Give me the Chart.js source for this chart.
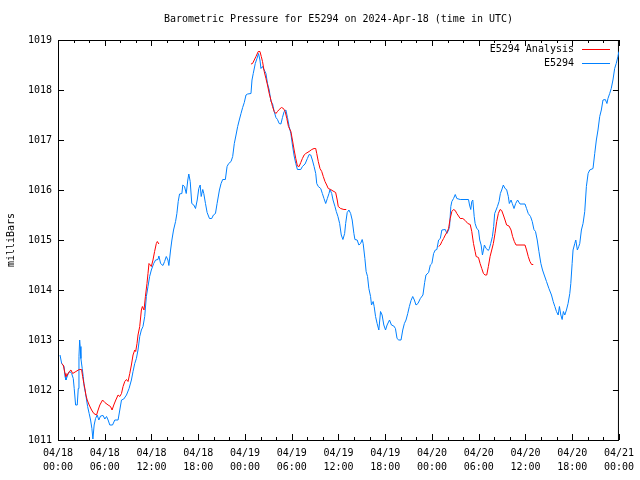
<!DOCTYPE html>
<html><head><meta charset="utf-8">
<script src="https://cdn.jsdelivr.net/npm/chart.js@4"></script>
<style>html,body{margin:0;padding:0;background:#fff}canvas{display:block}</style>
</head><body>
<canvas id="c" width="640" height="480"></canvas>
<script>
const TITLE = "Barometric Pressure for E5294 on 2024-Apr-18 (time in UTC)";
const Y_TITLE = "milliBars";
const SERIES_NAMES = ["E5294 Analysis", "E5294"];
const Y_TICKS = [1011, 1012, 1013, 1014, 1015, 1016, 1017, 1018, 1019];
const X_TICK_HOURS = [0, 6, 12, 18, 24, 30, 36, 42, 48, 54, 60, 66, 72];
const X_TICK_LABELS = [
  ["04/18","00:00"],["04/18","06:00"],["04/18","12:00"],["04/18","18:00"],
  ["04/19","00:00"],["04/19","06:00"],["04/19","12:00"],["04/19","18:00"],
  ["04/20","00:00"],["04/20","06:00"],["04/20","12:00"],["04/20","18:00"],
  ["04/21","00:00"]
];
const X_MINOR_STEP_HOURS = 2;

// E5294 observations: hours since 04/18 00:00 UTC, pressure in mb
const blueHours = [0.26,0.47,0.77,0.90,1.02,1.32,1.53,1.75,1.96,2.08,2.26,2.47,2.60,2.69,2.78,2.85,2.94,3.11,3.24,3.36,3.54,3.67,3.80,4.00,4.18,4.35,4.48,4.64,4.82,5.03,5.24,5.46,5.79,6.01,6.23,6.43,6.65,7.00,7.29,7.71,7.93,8.15,8.44,8.79,9.12,9.42,9.63,9.85,10.06,10.27,10.49,10.70,10.91,11.13,11.34,11.55,11.76,11.98,12.28,12.53,12.83,12.95,13.17,13.47,13.68,13.90,14.11,14.23,14.45,14.62,14.83,15.09,15.26,15.43,15.60,15.90,16.02,16.24,16.46,16.66,16.79,16.97,17.17,17.43,17.65,17.87,18.07,18.25,18.38,18.58,18.71,18.93,19.14,19.44,19.73,19.95,20.21,20.42,20.72,20.93,21.14,21.48,21.70,21.91,22.21,22.42,22.63,22.85,23.06,23.27,23.49,23.70,23.91,24.13,24.34,24.77,24.90,25.06,25.32,25.54,25.74,25.92,26.05,26.25,26.47,26.69,26.89,27.11,27.33,27.53,27.75,27.97,28.17,28.39,28.61,28.81,29.03,29.25,29.45,29.67,29.89,30.09,30.31,30.52,30.73,31.16,31.37,31.71,32.01,32.23,32.44,32.65,32.87,33.08,33.21,33.41,33.72,33.93,34.14,34.36,34.57,34.78,34.91,35.13,35.30,35.55,35.72,35.93,36.15,36.36,36.57,36.79,36.92,37.12,37.34,37.56,37.76,37.98,38.11,38.40,38.62,38.84,39.04,39.17,39.39,39.55,39.73,39.90,40.12,40.24,40.45,40.58,40.76,40.96,41.18,41.40,41.60,41.82,42.04,42.24,42.55,42.80,43.10,43.31,43.52,43.74,44.03,44.25,44.46,44.67,44.89,45.10,45.31,45.53,45.74,45.95,46.20,46.51,46.84,47.06,47.23,47.57,47.79,47.99,48.21,48.43,48.63,48.85,49.07,49.27,49.71,49.91,50.13,50.26,50.42,50.55,50.77,50.99,51.19,51.63,52.69,52.82,52.98,53.11,53.24,53.42,53.54,53.75,53.97,54.13,54.31,54.48,54.61,54.73,54.95,55.24,55.37,55.54,55.76,55.92,56.05,56.23,56.40,56.61,56.78,56.95,57.16,57.38,57.58,57.80,57.93,58.15,58.31,58.53,58.74,58.99,59.30,59.94,60.14,60.36,60.65,60.87,61.09,61.29,61.51,61.73,61.98,62.19,62.41,62.70,63.01,63.34,63.56,63.77,63.98,64.20,64.36,64.54,64.71,64.87,65.05,65.26,65.47,65.69,65.82,65.99,66.11,66.33,66.46,66.66,66.84,66.97,67.18,67.39,67.61,67.82,68.04,68.25,68.67,68.89,69.10,69.31,69.53,69.74,69.95,70.25,70.46,70.59,70.81,71.01,71.23,71.45,71.65,71.87,72.00];
const bluePressure = [1012.70,1012.53,1012.47,1012.27,1012.20,1012.33,1012.37,1012.33,1012.23,1012.03,1011.70,1011.70,1012.03,1012.67,1013.00,1012.87,1012.63,1012.43,1012.27,1012.07,1011.93,1011.80,1011.67,1011.53,1011.40,1011.23,1011.02,1011.30,1011.43,1011.50,1011.40,1011.48,1011.49,1011.42,1011.47,1011.40,1011.30,1011.30,1011.40,1011.40,1011.60,1011.80,1011.82,1011.90,1012.03,1012.20,1012.37,1012.53,1012.63,1012.80,1013.07,1013.20,1013.27,1013.47,1013.87,1014.07,1014.27,1014.40,1014.53,1014.60,1014.61,1014.68,1014.53,1014.49,1014.57,1014.67,1014.60,1014.49,1014.80,1015.00,1015.20,1015.37,1015.53,1015.77,1015.92,1015.93,1016.10,1016.07,1015.93,1016.20,1016.32,1016.17,1015.73,1015.70,1015.63,1015.80,1016.03,1016.10,1015.87,1016.01,1015.93,1015.73,1015.55,1015.43,1015.43,1015.50,1015.53,1015.73,1016.00,1016.13,1016.21,1016.21,1016.47,1016.53,1016.57,1016.67,1016.93,1017.10,1017.27,1017.40,1017.53,1017.65,1017.75,1017.90,1017.92,1017.93,1018.20,1018.33,1018.53,1018.63,1018.73,1018.60,1018.43,1018.47,1018.40,1018.33,1018.13,1018.00,1017.77,1017.73,1017.57,1017.45,1017.41,1017.33,1017.32,1017.45,1017.57,1017.60,1017.45,1017.27,1017.13,1016.90,1016.68,1016.53,1016.41,1016.41,1016.47,1016.52,1016.63,1016.71,1016.70,1016.60,1016.47,1016.33,1016.13,1016.07,1016.03,1015.93,1015.83,1015.73,1015.83,1015.93,1016.01,1015.93,1015.80,1015.67,1015.57,1015.47,1015.33,1015.10,1015.01,1015.13,1015.33,1015.55,1015.60,1015.53,1015.40,1015.13,1015.01,1015.00,1014.90,1014.93,1015.01,1014.93,1014.63,1014.37,1014.27,1014.03,1013.87,1013.70,1013.77,1013.67,1013.47,1013.33,1013.20,1013.57,1013.50,1013.30,1013.20,1013.30,1013.40,1013.30,1013.28,1013.23,1013.03,1013.00,1013.00,1013.20,1013.33,1013.40,1013.53,1013.67,1013.79,1013.87,1013.80,1013.70,1013.73,1013.83,1013.90,1014.15,1014.30,1014.35,1014.50,1014.53,1014.73,1014.80,1014.81,1015.00,1015.03,1015.20,1015.21,1015.13,1015.20,1015.27,1015.67,1015.77,1015.83,1015.91,1015.83,1015.81,1015.81,1015.70,1015.61,1015.77,1015.80,1015.47,1015.33,1015.23,1015.20,1015.00,1014.90,1014.70,1014.80,1014.90,1014.83,1014.79,1014.83,1014.93,1015.07,1015.27,1015.53,1015.60,1015.67,1015.77,1015.93,1016.00,1016.10,1016.03,1016.01,1015.87,1015.73,1015.80,1015.73,1015.63,1015.73,1015.80,1015.72,1015.72,1015.63,1015.53,1015.47,1015.37,1015.21,1015.17,1015.00,1014.77,1014.53,1014.40,1014.30,1014.17,1014.03,1013.90,1013.77,1013.67,1013.57,1013.50,1013.67,1013.50,1013.41,1013.57,1013.50,1013.60,1013.73,1013.93,1014.13,1014.53,1014.80,1014.93,1015.00,1014.80,1014.87,1014.93,1015.20,1015.33,1015.57,1016.07,1016.33,1016.40,1016.43,1016.73,1017.00,1017.20,1017.47,1017.60,1017.80,1017.81,1017.73,1017.83,1017.93,1018.03,1018.20,1018.43,1018.53,1018.67,1018.77];

// E5294 Analysis: three runs separated by gaps (null)
const redHours = [0.47,0.68,0.90,1.02,1.19,1.45,1.66,1.88,2.30,2.72,3.03,3.16,3.32,3.45,3.58,3.75,4.00,4.31,4.60,4.95,5.15,5.37,5.72,6.01,6.43,6.74,6.94,7.16,7.42,7.71,7.93,8.15,8.35,8.57,8.79,8.99,9.21,9.42,9.63,9.85,9.97,10.14,10.27,10.49,10.70,10.83,11.04,11.22,11.42,11.55,11.68,11.85,11.98,12.19,12.40,12.62,12.75,12.95,
  18.0,
  24.77,24.97,25.19,25.41,25.70,25.92,26.09,26.25,26.47,26.69,26.89,27.11,27.33,27.53,27.75,27.97,28.17,28.39,28.68,28.94,29.16,29.37,29.58,29.89,30.09,30.31,30.52,30.73,30.95,31.16,31.37,31.59,31.80,32.23,32.57,32.87,33.08,33.21,33.41,33.63,33.85,34.05,34.27,34.49,34.69,35.00,35.30,35.64,35.84,35.97,36.28,36.70,37.00,
  42.0,
  48.85,49.07,49.27,49.49,49.71,49.91,50.13,50.34,50.55,50.77,50.99,51.19,51.41,51.63,51.96,52.27,52.60,52.91,53.11,53.33,53.54,53.67,53.97,54.18,54.39,54.61,54.82,55.03,55.24,55.46,55.67,55.88,56.09,56.31,56.52,56.74,56.95,57.16,57.38,57.58,57.89,58.15,58.35,58.57,58.79,59.30,59.94,60.14,60.36,60.57,60.79,61.00];
const redPressure = [1012.53,1012.50,1012.33,1012.27,1012.30,1012.37,1012.40,1012.33,1012.37,1012.41,1012.41,1012.27,1012.13,1012.03,1011.90,1011.80,1011.70,1011.60,1011.53,1011.50,1011.60,1011.70,1011.80,1011.75,1011.70,1011.67,1011.60,1011.70,1011.80,1011.90,1011.87,1011.93,1012.07,1012.17,1012.21,1012.17,1012.33,1012.50,1012.70,1012.80,1012.77,1012.93,1013.10,1013.27,1013.60,1013.67,1013.60,1013.87,1014.13,1014.33,1014.53,1014.50,1014.47,1014.60,1014.77,1014.93,1014.97,1014.92,
  null,
  1018.52,1018.53,1018.60,1018.67,1018.77,1018.77,1018.67,1018.57,1018.37,1018.23,1018.10,1017.93,1017.80,1017.67,1017.57,1017.53,1017.57,1017.61,1017.65,1017.63,1017.57,1017.43,1017.27,1017.17,1017.00,1016.80,1016.63,1016.48,1016.47,1016.55,1016.63,1016.70,1016.73,1016.77,1016.81,1016.83,1016.83,1016.73,1016.57,1016.43,1016.37,1016.27,1016.17,1016.10,1016.03,1016.01,1015.98,1015.95,1015.80,1015.67,1015.63,1015.61,1015.61,
  null,
  1014.87,1014.90,1014.97,1015.03,1015.10,1015.15,1015.23,1015.43,1015.57,1015.61,1015.59,1015.53,1015.48,1015.43,1015.43,1015.39,1015.33,1015.31,1015.17,1014.93,1014.77,1014.67,1014.65,1014.53,1014.43,1014.33,1014.30,1014.30,1014.47,1014.67,1014.80,1014.93,1015.13,1015.37,1015.53,1015.61,1015.59,1015.50,1015.40,1015.30,1015.28,1015.20,1015.07,1014.97,1014.90,1014.90,1014.90,1014.80,1014.67,1014.57,1014.51,1014.51];

const FONT = "'DejaVu Sans Mono', 'Liberation Mono', monospace";
const RED = "#ff0000";
const BLUE = "#0080ff";

const toPoints = (xs, ys) => xs.map((x, i) => ({ x: x, y: ys[i] }));

const decorPlugin = {
  id: "decor",
  beforeDatasetsDraw(chart) {
    const ctx = chart.ctx, a = chart.chartArea;
    const xs = chart.scales.x, ys = chart.scales.y;
    ctx.save();
    ctx.strokeStyle = "#000";
    ctx.lineWidth = 1;
    ctx.beginPath();
    // y ticks (inward, both sides)
    Y_TICKS.forEach(v => {
      const py = Math.round(ys.getPixelForValue(v)) + 0.5;
      ctx.moveTo(a.left, py); ctx.lineTo(a.left + 6, py);
      ctx.moveTo(a.right, py); ctx.lineTo(a.right - 6, py);
    });
    // x ticks (major + minor, inward, bottom and top)
    for (let h = xs.min; h <= xs.max + 1e-9; h += X_MINOR_STEP_HOURS) {
      const major = X_TICK_HOURS.includes(h);
      const len = major ? 6 : 3;
      const px = Math.round(xs.getPixelForValue(h)) + 0.5;
      ctx.moveTo(px, a.bottom); ctx.lineTo(px, a.bottom - len);
      ctx.moveTo(px, a.top); ctx.lineTo(px, a.top + len);
    }
    ctx.stroke();
    ctx.strokeRect(a.left + 0.5, a.top + 0.5, a.right - a.left - 1, a.bottom - a.top);
    ctx.restore();
  },
  afterDraw(chart) {
    const ctx = chart.ctx, a = chart.chartArea;
    ctx.save();
    ctx.fillStyle = "#000";
    ctx.font = "10px " + FONT;
    ctx.textBaseline = "middle";
    // title
    ctx.textAlign = "center";
    ctx.fillText(TITLE, (a.left + a.right) / 2, 19);
    // y axis title
    ctx.save();
    ctx.translate(11, (a.top + a.bottom) / 2);
    ctx.rotate(-Math.PI / 2);
    ctx.fillText(Y_TITLE, 0, 0);
    ctx.restore();
    // legend
    const colors = [RED, BLUE];
    SERIES_NAMES.forEach((name, i) => {
      const y = 49 + i * 14;
      ctx.textAlign = "right";
      ctx.fillStyle = "#000";
      ctx.fillText(name, 574, y);
      ctx.strokeStyle = colors[i];
      ctx.lineWidth = 1;
      ctx.beginPath();
      ctx.moveTo(582, Math.round(y) + 0.5);
      ctx.lineTo(610, Math.round(y) + 0.5);
      ctx.stroke();
    });
    ctx.restore();
  }
};

new Chart(document.getElementById("c"), {
  type: "line",
  data: {
    datasets: [
      { label: SERIES_NAMES[0], data: toPoints(redHours, redPressure), borderColor: RED, borderWidth: 1, pointRadius: 0, spanGaps: false, tension: 0, fill: false },
      { label: SERIES_NAMES[1], data: toPoints(blueHours, bluePressure), borderColor: BLUE, borderWidth: 1, pointRadius: 0, tension: 0, fill: false }
    ]
  },
  options: {
    responsive: false,
    animation: false,
    devicePixelRatio: 1,
    layout: { padding: { top: 40, right: 19, left: 0, bottom: 0 } },
    plugins: { legend: { display: false }, title: { display: false }, tooltip: { enabled: false } },
    scales: {
      x: {
        type: "linear", min: 0, max: 72,
        afterFit: s => { s.height = 40; },
        afterBuildTicks: s => { s.ticks = X_TICK_HOURS.map(v => ({ value: v })); },
        grid: { display: false, drawTicks: false },
        border: { display: false },
        ticks: {
          autoSkip: false, maxRotation: 0, minRotation: 0, padding: 6, color: "#000",
          font: { family: FONT, size: 10, lineHeight: 1.4 },
          callback: v => { const i = X_TICK_HOURS.indexOf(v); return i >= 0 ? X_TICK_LABELS[i] : ""; }
        }
      },
      y: {
        type: "linear", min: 1011, max: 1019,
        afterFit: s => { s.width = 58; },
        afterBuildTicks: s => { s.ticks = Y_TICKS.map(v => ({ value: v })); },
        grid: { display: false, drawTicks: false },
        border: { display: false },
        ticks: { padding: 6, color: "#000", font: { family: FONT, size: 10 }, callback: v => String(v) }
      }
    }
  },
  plugins: [decorPlugin]
});
</script>
</body></html>
